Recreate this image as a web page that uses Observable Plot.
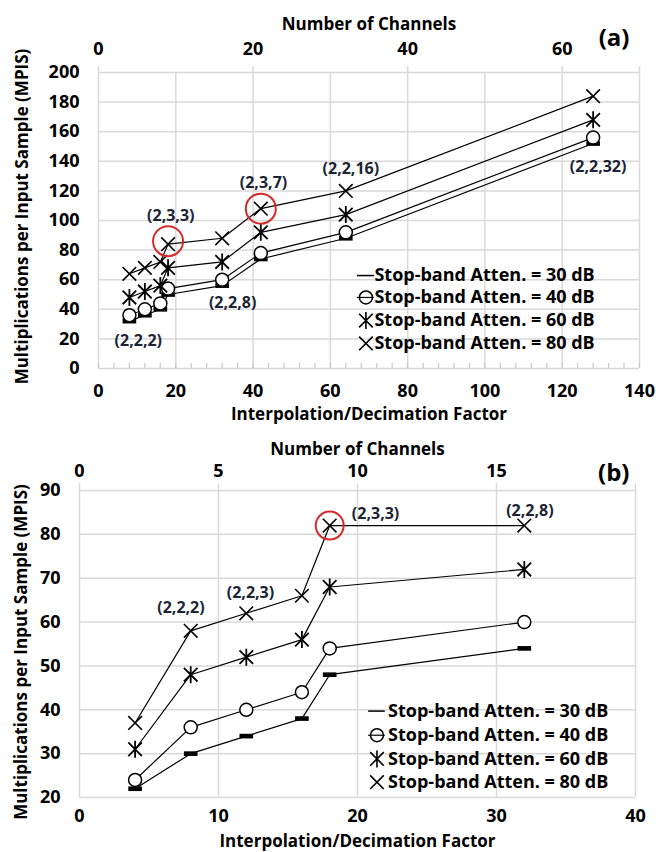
<!DOCTYPE html>
<html><head><meta charset="utf-8">
<script src="https://cdn.jsdelivr.net/npm/d3@7"></script>
<script src="https://cdn.jsdelivr.net/npm/@observablehq/plot@0.6"></script>
<style>
html,body{margin:0;padding:0;background:#fff;}
#wrap{position:relative;width:666px;height:852px;overflow:hidden;background:#fff;}
#pa{position:absolute;left:0;top:0;}
#pb{position:absolute;left:0;top:430px;}
</style></head><body><div id="wrap"><div id="pa"></div><div id="pb"></div></div>
<script>
// ---------- data ----------
const seriesNames = ["Stop-band Atten. = 30 dB","Stop-band Atten. = 40 dB","Stop-band Atten. = 60 dB","Stop-band Atten. = 80 dB"];

// panel (a)
const factorsA = [8,12,16,18,32,42,64,128];
const a30 = [32,36,40,50,56,74,88,152];
const a40 = [36,40,44,54,60,78,92,156];
const a60 = [48,52,56,68,72,92,104,168];
const a80 = [64,68,72,84,88,108,120,184];
const xTicksA = [0,20,40,60,80,100,120,140];
const yTicksA = [0,20,40,60,80,100,120,140,160,180,200];
const channelTicksA = [0,20,40,60];
const minorTicksA = d3.range(0,141,4);
const annotTextA = ["(2,2,2)","(2,3,3)","(2,3,7)","(2,2,16)","(2,2,8)","(2,2,32)"];
const annotXA = [10.3,18.7,42.7,65.3,34.7,129.3];
const annotYA = [19,103,125.7,135,44.6,136];
const highlightXA = [18,42];
const highlightYA = [86,108];

// panel (b)
const factorsB = [4,8,12,16,18,32];
const b30 = [22,30,34,38,48,54];
const b40 = [24,36,40,44,54,60];
const b60 = [31,48,52,56,68,72];
const b80 = [37,58,62,66,82,82];
const xTicksB = [0,10,20,30,40];
const yTicksB = [20,30,40,50,60,70,80,90];
const channelTicksB = [0,5,10,15];
const annotTextB = ["(2,2,2)","(2,2,3)","(2,3,3)","(2,2,8)"];
const annotXB = [7.3,12.3,21.3,32.4];
const annotYB = [63.2,66.6,84.7,85.4];
const highlightXB = [18];
const highlightYB = [82];

const factorPerChannel = 2;
const xTitle = "Interpolation/Decimation Factor";
const topTitle = "Number of Channels";
const yTitle = "Multiplications per Input Sample (MPIS)";

// ---------- symbols ----------
const FONT = "'Open Sans', Lato, sans-serif";
const dash = {draw(ctx, size){ const r=Math.sqrt(size/Math.PI); const w=r*2.2, h=r*0.75; ctx.moveTo(-w/2,-h/2); ctx.lineTo(w/2,-h/2); ctx.lineTo(w/2,h/2); ctx.lineTo(-w/2,h/2); ctx.closePath(); }};
const times = {draw(ctx, size){ const r=Math.sqrt(size/Math.PI); ctx.moveTo(-r,-r); ctx.lineTo(r,r); ctx.moveTo(-r,r); ctx.lineTo(r,-r); }};
const star = {draw(ctx, size){ const r=Math.sqrt(size/Math.PI); ctx.moveTo(-r,-r); ctx.lineTo(r,r); ctx.moveTo(-r,r); ctx.lineTo(r,-r); ctx.moveTo(0,-r*1.25); ctx.lineTo(0,r*1.25); }};

function build(cfg){
  const {factors, vals, xDomain, yDomain, xTicks, yTicks, chTicks, minor, annT, annX, annY, hx, hy, leg, m, height, tag, ch} = cfg;
  const data = vals.flatMap((arr,i)=>factors.map((f,j)=>({f, v:arr[j], s:i})));
  const ser = i => data.filter(d=>d.s===i);
  const grid = {stroke:"#d9d9d9", strokeOpacity:1, strokeWidth:1.5};
  const legRows = seriesNames.map((n,i)=>({n, i, y: leg.y[i]}));
  const legSyms = [dash, "circle", star, times];
  const TS = cfg.tickSize;
  const marks = [
    Plot.gridX(xTicks, grid),
    Plot.gridY(yTicks, grid),
    Plot.ruleX(chTicks.map(c=>c*factorPerChannel).concat([xDomain[1]]), {y1: yDomain[1], y2: yDomain[1] + ch, stroke:"#d9d9d9", strokeWidth:1.5, clip:false}),
    Plot.axisX(xTicks, {anchor:"bottom", tickSize:0, tickPadding:cfg.padB, label:null, fontSize:TS, fontWeight:"bold"}),
    Plot.axisX(chTicks.map(c=>c*factorPerChannel), {anchor:"top", tickSize:0, tickPadding:cfg.padT, tickFormat:d=>d/factorPerChannel, label:null, fontSize:TS, fontWeight:"bold"}),
    Plot.axisY(yTicks, {anchor:"left", tickSize:0, tickPadding:19, label:null, fontSize:TS, fontWeight:"bold"}),
    Plot.text([xTitle], {frameAnchor:"bottom", dy:cfg.xTitleDy, fontSize:17, fontWeight:"bold"}),
    Plot.text([topTitle], {frameAnchor:"top", dy:cfg.topTitleDy, fontSize:17, fontWeight:"bold"}),
    Plot.text([yTitle], {frameAnchor:"left", textAnchor:"middle", dx:cfg.yTitleDx, dy:cfg.yTitleDy, rotate:-90, fontSize:17, fontWeight:"bold"}),
    Plot.text([tag], {frameAnchor:"top-right", dx:cfg.tagDx, dy:cfg.tagDy, fontSize:24, fontWeight:"bold"}),
  ];
  if (minor) marks.push(Plot.ruleX(minor, {y1:yDomain[0], y2:yDomain[0] + cfg.minorLen, stroke:"#c8c8c8", strokeWidth:1.2}));
  for (let i=0;i<4;i++) marks.push(Plot.line(ser(i), {x:"f", y:"v", stroke:"#000", strokeWidth:1.2}));
  marks.push(Plot.dot(ser(0), {x:"f", y:"v", symbol:dash, r:cfg.rDash, fill:"#000", stroke:"none"}));
  marks.push(Plot.dot(ser(1), {x:"f", y:"v", symbol:"circle", r:cfg.rCirc, fill:"#fff", stroke:"#000", strokeWidth:1.5}));
  marks.push(Plot.dot(ser(2), {x:"f", y:"v", symbol:star, r:cfg.rSym, fill:"none", stroke:"#000", strokeWidth:1.8}));
  marks.push(Plot.dot(ser(3), {x:"f", y:"v", symbol:times, r:cfg.rSym, fill:"none", stroke:"#000", strokeWidth:1.6}));
  marks.push(Plot.dot(hx.map((x,i)=>({x, y:hy[i]})), {x:"x", y:"y", r:cfg.rHi, stroke:"#d42a2a", strokeWidth:2, fill:"none"}));
  marks.push(Plot.text(annT.map((t,i)=>({t, x:annX[i], y:annY[i]})), {x:"x", y:"y", text:"t", fontSize:cfg.annSize, fontWeight:"bold", fill:"#1c2333"}));
  // legend
  legRows.forEach((row,i)=>{
    const sym = legSyms[i];
    if (i===0) marks.push(Plot.ruleY([row], {x1: leg.mx - leg.half, x2: leg.mx + leg.half, y:"y", stroke:"#000", strokeWidth:1.5}));
    else if (i===1) { marks.push(Plot.ruleY([row], {x1: leg.mx - leg.half, x2: leg.mx + leg.half, y:"y", stroke:"#000", strokeWidth:1.2})); marks.push(Plot.dot([row], {x:()=>leg.mx, y:"y", r:cfg.rCirc, fill:"none", stroke:"#000", strokeWidth:1.5})); }
    else marks.push(Plot.dot([row], {x:()=>leg.mx, y:"y", symbol:sym, r:cfg.rSym, fill:"none", stroke:"#000", strokeWidth:1.6}));
    marks.push(Plot.text([row], {x:()=>leg.tx, y:"y", text:"n", textAnchor:"start", fontSize:cfg.legSize, fontWeight:"bold", fill:"#000"}));
  });
  return Plot.plot({
    width:666, height, marginLeft:m[3], marginRight:m[1], marginTop:m[0], marginBottom:m[2],
    style:{fontFamily:FONT, color:"#000", background:"#fff", overflow:"visible"},
    x:{domain:xDomain}, y:{domain:yDomain},
    marks
  });
}

document.getElementById("pa").appendChild(build({
  factors:factorsA, vals:[a30,a40,a60,a80], xDomain:[0,140], yDomain:[0,200], xTicks:xTicksA, yTicks:yTicksA,
  chTicks:channelTicksA, minor:minorTicksA, minorLen:3.4, annT:annotTextA, annX:annotXA, annY:annotYA, hx:highlightXA, hy:highlightYA,
  leg:{mx:69.2, half:2.2, tx:71.4, y:[62.8,48,32.4,16.9]},
  m:[72,27,62,98], height:430, tag:"(a)", ch:4, padB:16, padT:18, xTitleDy:51, topTitleDy:-55, yTitleDx:-76, yTitleDy:-4, tagDx:-10, tagDy:-44,
  rDash:6.2, rCirc:6.5, rSym:6.8, rHi:15, annSize:16, legSize:18, tickSize:18
}));

document.getElementById("pb").appendChild(build({
  factors:factorsB, vals:[b30,b40,b60,b80], xDomain:[0,40], yDomain:[20,90], xTicks:xTicksB, yTicks:yTicksB,
  chTicks:channelTicksB, minor:null, annT:annotTextB, annX:annotXB, annY:annotYB, hx:highlightXB, hy:highlightYB,
  leg:{mx:21.4, half:0.6, tx:22.2, y:[39.7,34.2,28.8,23.5]},
  m:[60,31,55,79], height:422, tag:"(b)", ch:1.5, padB:12, padT:14, xTitleDy:49, topTitleDy:-48, yTitleDx:-58, yTitleDy:8, tagDx:-6, tagDy:-27,
  rDash:6.2, rCirc:6.5, rSym:6.8, rHi:14, annSize:16, legSize:18, tickSize:18
}));
</script></body></html>
